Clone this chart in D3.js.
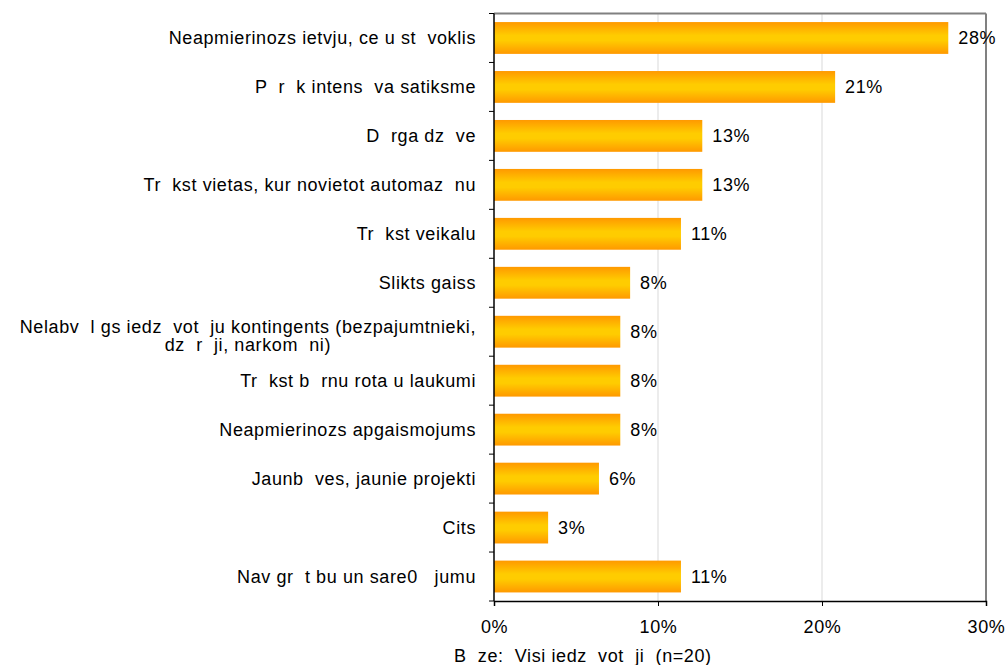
<!DOCTYPE html>
<html><head><meta charset="utf-8">
<script src="https://cdn.jsdelivr.net/npm/d3@7"></script>
<style>body{margin:0;background:#fff}svg{display:block;font-family:"Liberation Sans",Arial,sans-serif}text{letter-spacing:0.6px}</style>
</head><body><svg id="c" width="1007" height="665"></svg>
<script>
const categories = [
  ["Neapmierinozs ietvju, ce u st  voklis"],
  ["P  r  k intens  va satiksme"],
  ["D  rga dz  ve"],
  ["Tr  kst vietas, kur novietot automaz  nu"],
  ["Tr  kst veikalu"],
  ["Slikts gaiss"],
  ["Nelabv  l gs iedz  vot  ju kontingents (bezpajumtnieki,", "dz  r  ji, narkom  ni)"],
  ["Tr  kst b  rnu rota u laukumi"],
  ["Neapmierinozs apgaismojums"],
  ["Jaunb  ves, jaunie projekti"],
  ["Cits"],
  ["Nav gr  t bu un sare0   jumu"]
];
const values = [27.7, 20.8, 12.7, 12.7, 11.4, 8.3, 7.7, 7.7, 7.7, 6.4, 3.3, 11.4];
const valueLabels = ["28%","21%","13%","13%","11%","8%","8%","8%","8%","6%","3%","11%"];
const xTicks = [0, 10, 20, 30];
const axisTitle = "B  ze:  Visi iedz  vot  ji  (n=20)";

const FS = 18;
const svg = d3.select("#c");
const L = 494, R = 986, T = 13.5, B = 601;
const x = d3.scaleLinear().domain([0, 30]).range([L, R]);
const y = d3.scaleBand().domain(d3.range(categories.length)).range([T, B]).paddingInner(0.35).paddingOuter(0.175);
const band = d3.scaleBand().domain(d3.range(categories.length)).range([T, B]);

const defs = svg.append("defs");
const g = defs.append("linearGradient").attr("id","bg").attr("x1",0).attr("y1",0).attr("x2",0).attr("y2",1);
g.append("stop").attr("offset","0%").attr("stop-color","#FF9900");
g.append("stop").attr("offset","42%").attr("stop-color","#FFCC00");
g.append("stop").attr("offset","58%").attr("stop-color","#FFCC00");
g.append("stop").attr("offset","100%").attr("stop-color","#FF9900");

// gridlines
svg.append("g").selectAll("line").data(xTicks.slice(1, -1)).join("line")
  .attr("x1", d => x(d)).attr("x2", d => x(d)).attr("y1", T).attr("y2", B)
  .attr("stroke", "#d9d9d9").attr("stroke-width", 1);

// borders top/right
svg.append("line").attr("x1", L).attr("x2", R).attr("y1", T).attr("y2", T).attr("stroke", "#808080").attr("stroke-width", 2);
svg.append("line").attr("x1", R).attr("x2", R).attr("y1", T).attr("y2", B).attr("stroke", "#808080").attr("stroke-width", 2);

// bars
svg.append("g").selectAll("rect").data(values).join("rect")
  .attr("x", x(0)).attr("y", (d, i) => y(i)).attr("width", d => x(d) - x(0)).attr("height", y.bandwidth())
  .attr("fill", "url(#bg)");

// value labels
svg.append("g").selectAll("text").data(values).join("text")
  .attr("x", d => x(d) + 10).attr("y", (d, i) => y(i) + y.bandwidth() / 2).attr("dy", "0.35em")
  .attr("font-size", FS).attr("fill", "#000").style("white-space", "pre")
  .text((d, i) => valueLabels[i]);

// left axis
svg.append("line").attr("x1", L).attr("x2", L).attr("y1", T).attr("y2", B).attr("stroke", "#000").attr("stroke-width", 1.5);
svg.append("g").selectAll("line").data(d3.range(categories.length + 1)).join("line")
  .attr("x1", L - 5).attr("x2", L).attr("y1", i => T + i * band.bandwidth()).attr("y2", i => T + i * band.bandwidth())
  .attr("stroke", "#000");

// category labels
const cl = svg.append("g");
categories.forEach((lines, i) => {
  const cy = y(i) + y.bandwidth() / 2;
  if (lines.length === 1) {
    cl.append("text").attr("x", 476).attr("y", cy).attr("dy", "0.35em").attr("text-anchor", "end")
      .attr("font-size", FS).style("white-space", "pre").text(lines[0]);
  } else {
    const t1 = cl.append("text").attr("x", 476).attr("y", cy + 1).attr("text-anchor", "end")
      .attr("font-size", FS).style("white-space", "pre").text(lines[0]);
    const w = t1.node().getComputedTextLength();
    cl.append("text").attr("x", 476 - w / 2).attr("y", cy + 19).attr("text-anchor", "middle")
      .attr("font-size", FS).style("white-space", "pre").text(lines[1]);
  }
});

// bottom axis
const xa = svg.append("g").attr("transform", `translate(0,${B})`)
  .call(d3.axisBottom(x).tickValues(xTicks).tickFormat(d => d + "%").tickSize(5).tickPadding(14));
xa.select(".domain").attr("stroke", "#000").attr("stroke-width", 1.5);
xa.selectAll("text").attr("font-size", FS).attr("font-family", "Liberation Sans, Arial, sans-serif").attr("fill", "#000");

svg.append("text").attr("x", 454).attr("y", 656).attr("dy", "0.35em").attr("font-size", FS)
  .style("white-space", "pre").text(axisTitle);
</script></body></html>
